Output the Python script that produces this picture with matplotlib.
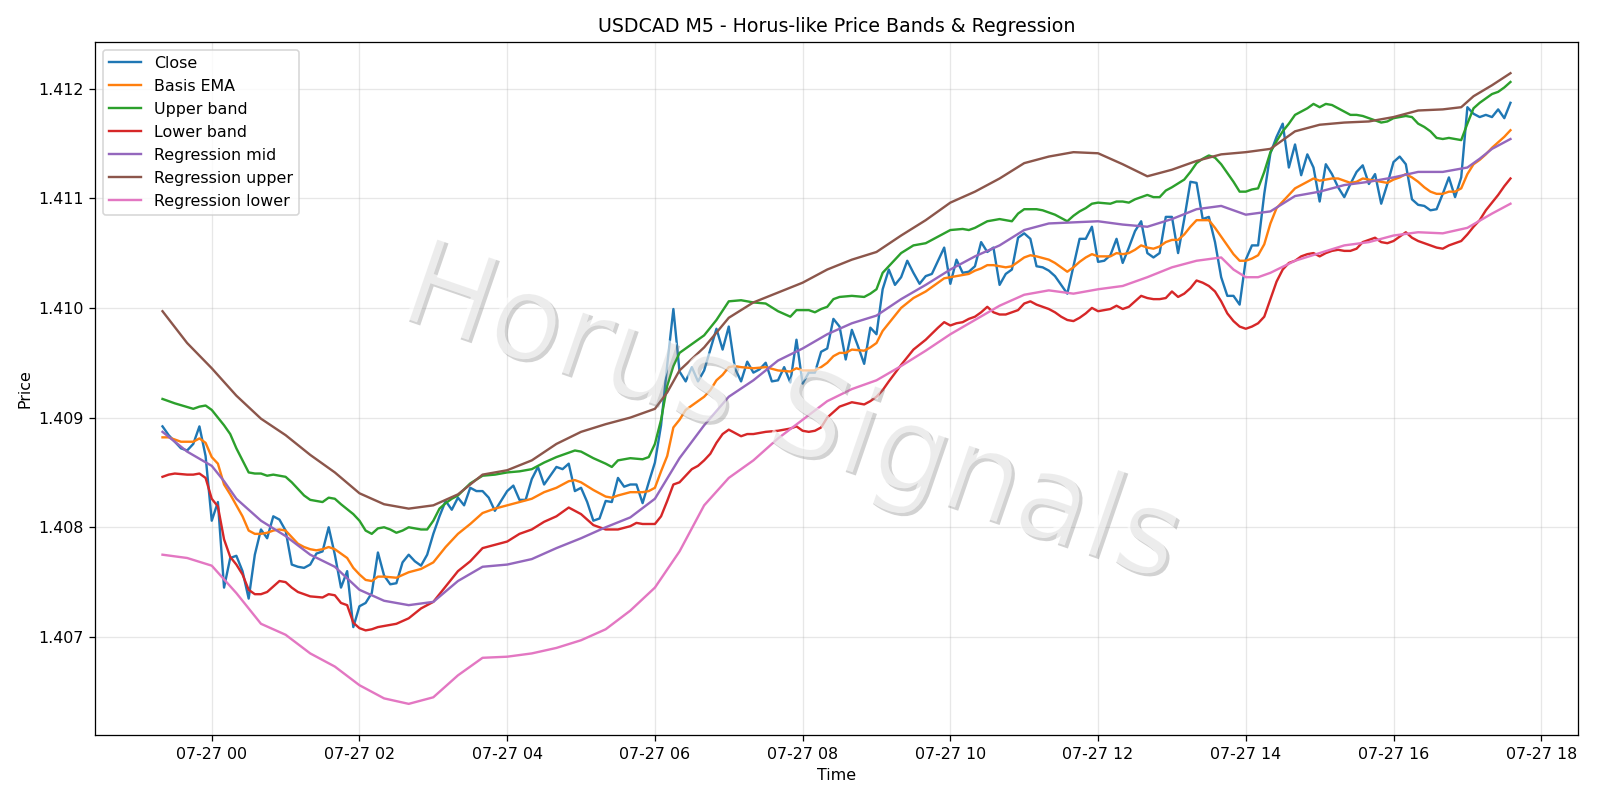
import matplotlib
matplotlib.use("Agg")
import matplotlib.pyplot as plt
import matplotlib.patheffects as pe
import pandas as pd

start_time = "2025-07-26 23:20"
n_bars = 220

close = [
    1.40892, 1.40884, 1.40878, 1.40872, 1.40870, 1.40876, 1.40892, 1.40865, 1.40806, 1.40823,
    1.40745, 1.40772, 1.40774, 1.40760, 1.40735, 1.40775, 1.40798, 1.40790, 1.40810, 1.40807,
    1.40797, 1.40766, 1.40764, 1.40763, 1.40766, 1.40776, 1.40778, 1.40800, 1.40775, 1.40745,
    1.40760, 1.40709, 1.40728, 1.40731, 1.40740, 1.40777, 1.40756, 1.40748, 1.40749, 1.40768,
    1.40775, 1.40769, 1.40765, 1.40775, 1.40794, 1.40810, 1.40824, 1.40816, 1.40827, 1.40820,
    1.40836, 1.40833, 1.40833, 1.40827, 1.40815, 1.40824, 1.40833, 1.40838, 1.40825, 1.40825,
    1.40844, 1.40855, 1.40839, 1.40847, 1.40855, 1.40853, 1.40858, 1.40833, 1.40836, 1.40823,
    1.40806, 1.40808, 1.40824, 1.40823, 1.40845, 1.40837, 1.40839, 1.40839, 1.40822, 1.40841,
    1.40859, 1.40893, 1.40948, 1.40999, 1.40942, 1.40933, 1.40946, 1.40933, 1.40943, 1.40962,
    1.40981, 1.40962, 1.40983, 1.40945, 1.40933, 1.40951, 1.40941, 1.40944, 1.40950, 1.40933,
    1.40934, 1.40946, 1.40932, 1.40971, 1.40931, 1.40941, 1.40941, 1.40960, 1.40963, 1.40990,
    1.40983, 1.40953, 1.40980, 1.40965, 1.40949, 1.40982, 1.40976, 1.41017, 1.41035, 1.41021,
    1.41028, 1.41043, 1.41032, 1.41022, 1.41029, 1.41031, 1.41043, 1.41055, 1.41022, 1.41044,
    1.41032, 1.41033, 1.41038, 1.41060, 1.41051, 1.41055, 1.41021, 1.41031, 1.41035, 1.41064,
    1.41068, 1.41063, 1.41038, 1.41037, 1.41034, 1.41029, 1.41021, 1.41013, 1.41038, 1.41063,
    1.41063, 1.41074, 1.41042, 1.41043, 1.41048, 1.41063, 1.41041, 1.41055, 1.41070, 1.41079,
    1.41050, 1.41046, 1.41050, 1.41083, 1.41083, 1.41050, 1.41081, 1.41115, 1.41114, 1.41081,
    1.41083, 1.41060, 1.41028, 1.41011, 1.41011, 1.41003, 1.41044, 1.41057, 1.41057, 1.41104,
    1.41141, 1.41156, 1.41168, 1.41128, 1.41149, 1.41121, 1.41140, 1.41128, 1.41097, 1.41131,
    1.41122, 1.41110, 1.41101, 1.41113, 1.41124, 1.41130, 1.41113, 1.41122, 1.41095, 1.41113,
    1.41133, 1.41138, 1.41131, 1.41099, 1.41094, 1.41093, 1.41089, 1.41090, 1.41104, 1.41119,
    1.41101, 1.41119, 1.41183, 1.41177, 1.41174, 1.41176, 1.41174, 1.41181, 1.41173, 1.41187,
]

ema_bar = [0, 1, 2, 3, 4, 5, 6, 7, 8, 9, 10, 11, 12, 13, 14, 15, 16, 17, 18, 19, 20, 21, 22, 23, 24,
           25, 26, 27, 28, 29, 30, 31, 32, 33, 34, 35, 36, 38, 40, 42, 44, 46, 48, 50, 52, 54, 56, 58,
           60, 62, 64, 66, 67, 68, 70, 72, 73, 74, 76, 78, 79, 80, 81, 82, 83, 84, 85, 86, 87, 88, 89,
           90, 91, 92, 93, 94, 96, 98, 100, 102, 103, 104, 106, 107, 108, 109, 110, 111, 112, 114, 115,
           116, 117, 118, 120, 122, 124, 126, 127, 128, 130, 131, 132, 133, 134, 135, 136, 137, 138,
           139, 140, 141, 142, 144, 145, 146, 147, 148, 149, 150, 151, 152, 153, 154, 155, 156, 157,
           158, 159, 160, 161, 162, 163, 164, 165, 166, 167, 168, 169, 170, 171, 172, 173, 174, 175,
           176, 177, 178, 179, 180, 181, 182, 183, 184, 185, 186, 187, 188, 189, 190, 191, 192, 193,
           194, 195, 196, 197, 198, 199, 200, 201, 202, 203, 204, 205, 206, 207, 208, 209, 210, 211,
           212, 213, 214, 215, 216, 217, 218, 219]
ema = [1.40882, 1.40882, 1.40880, 1.40878, 1.40878, 1.40878, 1.40881, 1.40877, 1.40864, 1.40858,
       1.40839, 1.40830, 1.40820, 1.40810, 1.40797, 1.40794, 1.40794, 1.40795, 1.40797, 1.40798,
       1.40797, 1.40791, 1.40785, 1.40782, 1.40780, 1.40779, 1.40780, 1.40782, 1.40780, 1.40776,
       1.40772, 1.40763, 1.40757, 1.40752, 1.40751, 1.40755, 1.40755, 1.40754, 1.40759, 1.40762,
       1.40768, 1.40782, 1.40794, 1.40803, 1.40813, 1.40817, 1.40820, 1.40823, 1.40826, 1.40832,
       1.40836, 1.40842, 1.40843, 1.40841, 1.40834, 1.40828, 1.40827, 1.40829, 1.40832, 1.40832,
       1.40833, 1.40836, 1.40851, 1.40865, 1.40891, 1.40898, 1.40907, 1.40911, 1.40915, 1.40919,
       1.40925, 1.40934, 1.40939, 1.40946, 1.40947, 1.40946, 1.40945, 1.40946, 1.40943, 1.40942,
       1.40945, 1.40943, 1.40943, 1.40946, 1.40950, 1.40956, 1.40959, 1.40959, 1.40962, 1.40961,
       1.40964, 1.40968, 1.40979, 1.40986, 1.41000, 1.41009, 1.41015, 1.41023, 1.41027, 1.41028,
       1.41030, 1.41031, 1.41034, 1.41036, 1.41039, 1.41039, 1.41038, 1.41037, 1.41038, 1.41042,
       1.41046, 1.41048, 1.41047, 1.41044, 1.41041, 1.41037, 1.41033, 1.41037, 1.41042, 1.41046,
       1.41049, 1.41047, 1.41047, 1.41047, 1.41050, 1.41049, 1.41050, 1.41053, 1.41057, 1.41055,
       1.41054, 1.41056, 1.41060, 1.41062, 1.41062, 1.41067, 1.41074, 1.41080, 1.41080, 1.41080,
       1.41073, 1.41065, 1.41057, 1.41049, 1.41043, 1.41043, 1.41045, 1.41048, 1.41058, 1.41077,
       1.41091, 1.41097, 1.41103, 1.41109, 1.41112, 1.41115, 1.41118, 1.41116, 1.41117, 1.41118,
       1.41118, 1.41116, 1.41114, 1.41115, 1.41118, 1.41117, 1.41116, 1.41115, 1.41114, 1.41117,
       1.41119, 1.41122, 1.41119, 1.41115, 1.41110, 1.41106, 1.41104, 1.41104, 1.41106, 1.41106,
       1.41109, 1.41122, 1.41131, 1.41135, 1.41140, 1.41146, 1.41151, 1.41156, 1.41162]

upper_bar = [0, 2, 5, 6, 7, 8, 10, 11, 12, 14, 15, 16, 17, 18, 20, 21, 23, 24, 26, 27, 28, 29, 31,
             32, 33, 34, 35, 36, 37, 38, 39, 40, 41, 42, 43, 44, 45, 46, 47, 48, 50, 52, 54, 56, 58,
             60, 62, 64, 66, 67, 68, 70, 72, 73, 74, 76, 78, 79, 80, 81, 82, 83, 84, 86, 88, 90, 92,
             94, 96, 98, 100, 102, 103, 105, 106, 107, 108, 109, 110, 112, 114, 115, 116, 117, 118,
             120, 122, 124, 126, 128, 130, 131, 132, 134, 136, 137, 138, 139, 140, 142, 143, 145, 147,
             148, 149, 150, 151, 152, 154, 155, 156, 157, 158, 160, 161, 162, 163, 164, 166, 167, 168,
             169, 170, 171, 172, 173, 174, 175, 176, 177, 178, 179, 180, 181, 182, 183, 184, 185, 186,
             187, 188, 189, 190, 191, 192, 193, 194, 195, 196, 197, 198, 199, 200, 201, 202, 203, 204,
             205, 206, 207, 208, 209, 210, 211, 212, 213, 214, 215, 216, 217, 218, 219]
upper = [1.40917, 1.40913, 1.40908, 1.40910, 1.40911, 1.40907, 1.40893, 1.40885, 1.40872, 1.40850,
         1.40849, 1.40849, 1.40847, 1.40848, 1.40846, 1.40841, 1.40829, 1.40825, 1.40823, 1.40827,
         1.40826, 1.40821, 1.40812, 1.40806, 1.40797, 1.40794, 1.40799, 1.40800, 1.40798, 1.40795,
         1.40797, 1.40800, 1.40799, 1.40798, 1.40798, 1.40806, 1.40817, 1.40822, 1.40826, 1.40829,
         1.40840, 1.40847, 1.40848, 1.40850, 1.40851, 1.40853, 1.40859, 1.40864, 1.40868, 1.40870,
         1.40869, 1.40863, 1.40858, 1.40855, 1.40861, 1.40863, 1.40862, 1.40864, 1.40876, 1.40898,
         1.40929, 1.40947, 1.40959, 1.40967, 1.40975, 1.40989, 1.41006, 1.41007, 1.41005, 1.41004,
         1.40997, 1.40992, 1.40998, 1.40998, 1.40996, 1.40999, 1.41001, 1.41008, 1.41010, 1.41011,
         1.41010, 1.41013, 1.41017, 1.41032, 1.41038, 1.41050, 1.41057, 1.41059, 1.41065, 1.41071,
         1.41072, 1.41071, 1.41073, 1.41079, 1.41081, 1.41080, 1.41079, 1.41086, 1.41090, 1.41090,
         1.41089, 1.41085, 1.41079, 1.41084, 1.41088, 1.41091, 1.41095, 1.41096, 1.41095, 1.41097,
         1.41097, 1.41096, 1.41099, 1.41103, 1.41101, 1.41101, 1.41107, 1.41110, 1.41117, 1.41124,
         1.41132, 1.41136, 1.41139, 1.41137, 1.41131, 1.41123, 1.41115, 1.41106, 1.41106, 1.41108,
         1.41109, 1.41124, 1.41142, 1.41152, 1.41161, 1.41168, 1.41176, 1.41179, 1.41182, 1.41186,
         1.41183, 1.41186, 1.41185, 1.41182, 1.41179, 1.41176, 1.41176, 1.41175, 1.41173, 1.41171,
         1.41169, 1.41170, 1.41173, 1.41174, 1.41175, 1.41174, 1.41168, 1.41165, 1.41161, 1.41155,
         1.41154, 1.41155, 1.41154, 1.41153, 1.41168, 1.41182, 1.41187, 1.41191, 1.41195, 1.41197,
         1.41201, 1.41206]

lower_bar = [0, 1, 2, 4, 5, 6, 7, 8, 9, 10, 11, 12, 13, 14, 15, 16, 17, 18, 19, 20, 21, 22, 23, 24,
             26, 27, 28, 29, 30, 31, 32, 33, 34, 35, 36, 38, 40, 42, 44, 46, 48, 50, 52, 54, 56, 58,
             60, 62, 64, 66, 67, 68, 70, 72, 74, 76, 77, 78, 79, 80, 81, 82, 83, 84, 85, 86, 87, 88,
             89, 90, 91, 92, 93, 94, 95, 96, 98, 100, 102, 103, 104, 105, 106, 107, 108, 110, 112,
             114, 115, 116, 117, 118, 120, 122, 124, 126, 127, 128, 129, 130, 131, 132, 133, 134, 135,
             136, 137, 138, 139, 140, 141, 142, 143, 144, 145, 146, 147, 148, 149, 150, 151, 152, 153,
             154, 155, 156, 157, 158, 159, 160, 161, 162, 163, 164, 165, 166, 167, 168, 169, 170, 171,
             172, 173, 174, 175, 176, 177, 178, 179, 180, 181, 182, 183, 184, 185, 186, 187, 188, 189,
             190, 191, 192, 193, 194, 195, 196, 197, 198, 199, 200, 201, 202, 203, 204, 205, 206, 207,
             208, 209, 210, 211, 212, 213, 214, 215, 216, 217, 218, 219]
lower = [1.40846, 1.40848, 1.40849, 1.40848, 1.40848, 1.40849, 1.40845, 1.40826, 1.40819, 1.40789,
         1.40773, 1.40766, 1.40757, 1.40743, 1.40739, 1.40739, 1.40741, 1.40746, 1.40751, 1.40750,
         1.40745, 1.40741, 1.40739, 1.40737, 1.40736, 1.40739, 1.40738, 1.40731, 1.40729, 1.40713,
         1.40708, 1.40706, 1.40707, 1.40709, 1.40710, 1.40712, 1.40717, 1.40726, 1.40732, 1.40746,
         1.40760, 1.40769, 1.40781, 1.40784, 1.40787, 1.40794, 1.40798, 1.40805, 1.40810, 1.40818,
         1.40815, 1.40812, 1.40802, 1.40798, 1.40798, 1.40801, 1.40804, 1.40803, 1.40803, 1.40803,
         1.40810, 1.40824, 1.40839, 1.40841, 1.40847, 1.40853, 1.40856, 1.40861, 1.40867, 1.40877,
         1.40885, 1.40889, 1.40886, 1.40883, 1.40885, 1.40885, 1.40887, 1.40888, 1.40890, 1.40892,
         1.40888, 1.40887, 1.40888, 1.40891, 1.40900, 1.40910, 1.40914, 1.40912, 1.40915, 1.40919,
         1.40925, 1.40933, 1.40948, 1.40962, 1.40971, 1.40982, 1.40987, 1.40984, 1.40986, 1.40987,
         1.40990, 1.40992, 1.40996, 1.41001, 1.40996, 1.40994, 1.40994, 1.40996, 1.40998, 1.41004,
         1.41006, 1.41003, 1.41001, 1.40999, 1.40996, 1.40992, 1.40989, 1.40988, 1.40991, 1.40995,
         1.41000, 1.40997, 1.40998, 1.40999, 1.41002, 1.40999, 1.41001, 1.41006, 1.41011, 1.41009,
         1.41008, 1.41008, 1.41009, 1.41015, 1.41010, 1.41013, 1.41018, 1.41025, 1.41023, 1.41020,
         1.41015, 1.41006, 1.40995, 1.40988, 1.40983, 1.40981, 1.40983, 1.40986, 1.40992, 1.41008,
         1.41024, 1.41035, 1.41041, 1.41043, 1.41047, 1.41049, 1.41050, 1.41047, 1.41050, 1.41052,
         1.41053, 1.41052, 1.41052, 1.41054, 1.41060, 1.41062, 1.41064, 1.41060, 1.41059, 1.41061,
         1.41065, 1.41069, 1.41064, 1.41061, 1.41059, 1.41057, 1.41055, 1.41054, 1.41057, 1.41059,
         1.41061, 1.41067, 1.41074, 1.41080, 1.41089, 1.41096, 1.41103, 1.41111, 1.41118]

reg_mid_bar = [0, 4, 8, 10, 12, 16, 20, 24, 28, 32, 36, 40, 44, 48, 52, 56, 60, 64, 68, 72, 76, 80,
               84, 88, 92, 96, 100, 104, 108, 112, 116, 120, 124, 128, 132, 136, 140, 144, 148, 152,
               156, 160, 164, 168, 172, 176, 180, 184, 188, 192, 196, 200, 204, 208, 212, 214, 216, 219]
reg_mid = [1.40887, 1.40869, 1.40856, 1.40842, 1.40826, 1.40806, 1.40792, 1.40775, 1.40764, 1.40743,
           1.40733, 1.40729, 1.40732, 1.40751, 1.40764, 1.40766, 1.40771, 1.40781, 1.40790, 1.40800,
           1.40809, 1.40826, 1.40863, 1.40893, 1.40919, 1.40934, 1.40952, 1.40963, 1.40976, 1.40986,
           1.40993, 1.41008, 1.41021, 1.41035, 1.41047, 1.41057, 1.41071, 1.41077, 1.41078, 1.41079,
           1.41076, 1.41074, 1.41081, 1.41090, 1.41093, 1.41085, 1.41088, 1.41102, 1.41106, 1.41112,
           1.41115, 1.41119, 1.41124, 1.41124, 1.41128, 1.41136, 1.41145, 1.41154]

reg_up_bar = [0, 4, 8, 12, 16, 20, 24, 28, 32, 36, 40, 44, 48, 52, 56, 60, 64, 68, 72, 76, 80, 82,
              84, 88, 92, 96, 100, 104, 108, 112, 116, 120, 124, 128, 132, 136, 140, 144, 148, 152,
              156, 160, 164, 168, 172, 176, 180, 184, 188, 192, 196, 200, 204, 208, 211, 213, 216, 219]
reg_up = [1.40997, 1.40968, 1.40945, 1.40920, 1.40899, 1.40884, 1.40866, 1.40850, 1.40831, 1.40821,
          1.40817, 1.40820, 1.40830, 1.40848, 1.40852, 1.40861, 1.40876, 1.40887, 1.40894, 1.40900,
          1.40908, 1.40923, 1.40943, 1.40964, 1.40991, 1.41005, 1.41014, 1.41023, 1.41035, 1.41044,
          1.41051, 1.41066, 1.41080, 1.41096, 1.41106, 1.41118, 1.41132, 1.41138, 1.41142, 1.41141,
          1.41131, 1.41120, 1.41126, 1.41134, 1.41140, 1.41142, 1.41145, 1.41161, 1.41167, 1.41169,
          1.41170, 1.41174, 1.41180, 1.41181, 1.41183, 1.41193, 1.41203, 1.41214]

reg_lo_bar = [0, 4, 8, 12, 16, 20, 24, 28, 32, 36, 40, 44, 48, 52, 56, 60, 64, 68, 72, 76, 80, 84,
              88, 92, 96, 100, 104, 108, 112, 116, 120, 124, 128, 132, 136, 140, 144, 148, 152, 156,
              160, 164, 168, 172, 174, 176, 178, 180, 184, 188, 192, 196, 200, 204, 208, 212, 216, 219]
reg_lo = [1.40775, 1.40772, 1.40765, 1.40740, 1.40712, 1.40702, 1.40685, 1.40673, 1.40656, 1.40644,
          1.40639, 1.40645, 1.40665, 1.40681, 1.40682, 1.40685, 1.40690, 1.40697, 1.40707, 1.40724,
          1.40745, 1.40778, 1.40820, 1.40845, 1.40861, 1.40881, 1.40898, 1.40915, 1.40926, 1.40934,
          1.40947, 1.40961, 1.40976, 1.40989, 1.41002, 1.41012, 1.41016, 1.41013, 1.41017, 1.41020,
          1.41028, 1.41037, 1.41043, 1.41046, 1.41035, 1.41028, 1.41028, 1.41032, 1.41043, 1.41050,
          1.41057, 1.41060, 1.41066, 1.41069, 1.41068, 1.41073, 1.41086, 1.41095]

times = pd.date_range(start_time, periods=n_bars, freq="5min")

fig, ax = plt.subplots(figsize=(14, 7), dpi=114.2858)
ax.plot(times, close, label="Close")
ax.plot(times[ema_bar], ema, label="Basis EMA")
ax.plot(times[upper_bar], upper, label="Upper band")
ax.plot(times[lower_bar], lower, label="Lower band")
ax.plot(times[reg_mid_bar], reg_mid, label="Regression mid")
ax.plot(times[reg_up_bar], reg_up, label="Regression upper")
ax.plot(times[reg_lo_bar], reg_lo, label="Regression lower")

ax.set_title("USDCAD M5 - Horus-like Price Bands & Regression")
ax.set_xlabel("Time")
ax.set_ylabel("Price")
ax.grid(True, alpha=0.3)
ax.legend(loc="upper left")

fig.text(0.494, 0.48, "Horus Signals", fontsize=75, color="white", alpha=0.6,
         rotation=-19, ha="center", va="center", zorder=10,
         path_effects=[pe.SimplePatchShadow(offset=(2, -2), shadow_rgbFace="gray", alpha=0.35),
                       pe.Normal()])

fig.tight_layout()
fig.savefig("out.png", dpi=114.2858)
